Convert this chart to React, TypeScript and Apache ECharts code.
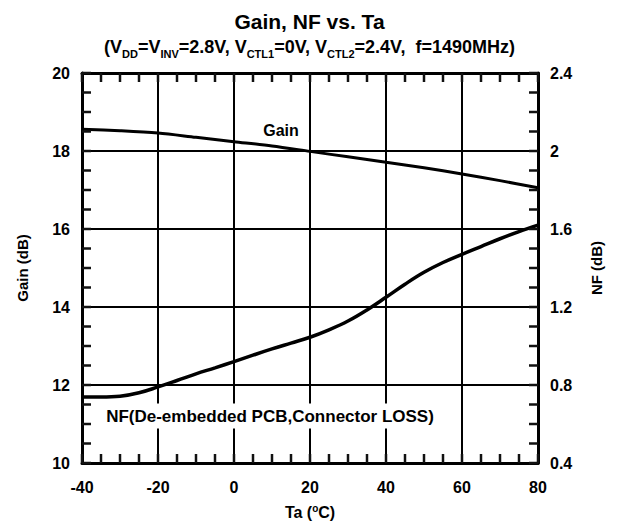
import React, { useEffect, useRef } from "react";
import * as echarts from "echarts";

const temps = [-40, -35, -30, -25, -20, -15, -10, -5, 0, 5, 10, 15, 20, 25, 30, 35, 40, 45, 50, 55, 60, 65, 70, 75, 80];
const gainTemps = [-40, -30, -20, -10, 0, 10, 20, 30, 40, 50, 60, 70, 80];
const gainValues = [18.56, 18.52, 18.46, 18.35, 18.24, 18.13, 17.99, 17.85, 17.71, 17.57, 17.41, 17.24, 17.06];
const nfValues = [0.738, 0.738, 0.742, 0.76, 0.79, 0.823, 0.857, 0.888, 0.92, 0.953, 0.985, 1.015, 1.045, 1.083, 1.128, 1.185, 1.25, 1.317, 1.378, 1.428, 1.47, 1.51, 1.55, 1.587, 1.62];

// tick positions (major + minor) along each edge
const xTickValues = [-40, -35, -30, -25, -20, -15, -10, -5, 0, 5, 10, 15, 20, 25, 30, 35, 40, 45, 50, 55, 60, 65, 70, 75, 80];
const gainTickValues = [10, 10.5, 11, 11.5, 12, 12.5, 13, 13.5, 14, 14.5, 15, 15.5, 16, 16.5, 17, 17.5, 18, 18.5, 19, 19.5, 20];
const nfTickValues = [0.4, 0.5, 0.6, 0.7, 0.8, 0.9, 1.0, 1.1, 1.2, 1.3, 1.4, 1.5, 1.6, 1.7, 1.8, 1.9, 2.0, 2.1, 2.2, 2.3, 2.4];
const xMin = -40;
const xMax = 80;
const gainMin = 10;
const gainMax = 20;

const FONT = 'Arial, "Liberation Sans", sans-serif';
const TICK_LEN = 9;

export default function App() {
  const ref = useRef<HTMLDivElement>(null);
  useEffect(() => {
    document.body.style.margin = "0";
    const chart = echarts.init(ref.current!, null, { renderer: "svg" });
    const lbl = { color: "#000", fontWeight: "bold", fontSize: 16, fontFamily: FONT };
    const mkTick = () => ({ stroke: "#111", lineWidth: 2.5, fill: null });
    chart.setOption({
      animation: false,
      backgroundColor: "#fff",
      title: [
        {
          text: "Gain, NF vs. Ta",
          left: "center",
          top: 6,
          textStyle: { fontSize: 21, fontWeight: "bold", fontFamily: FONT, color: "#000" },
        },
        {
          text: "(V{s|DD}=V{s|INV}=2.8V, V{s|CTL1}=0V, V{s|CTL2}=2.4V,  f=1490MHz)",
          left: "center",
          top: 29,
          textStyle: {
            fontSize: 18,
            fontWeight: "bold",
            fontFamily: FONT,
            color: "#000",
            rich: {
              s: { fontSize: 11, fontWeight: "bold", fontFamily: FONT, color: "#000", padding: [14, 0, 0, 0] },
            },
          },
        },
      ],
      grid: { left: 82, right: 81, top: 73, bottom: 65 },
      xAxis: [
        {
          type: "value",
          min: xMin,
          max: xMax,
          interval: 20,
          position: "bottom",
          axisLine: { show: true, onZero: false, lineStyle: { color: "#000", width: 3 } },
          axisTick: { show: false },
          splitLine: { show: true, lineStyle: { color: "#000", width: 2 } },
          axisLabel: { ...lbl, margin: 16 },
          name: "Ta ({sup|o}C)",
          nameLocation: "middle",
          nameGap: 40,
          nameTextStyle: {
            ...lbl,
            rich: { sup: { fontSize: 10, fontWeight: "bold", fontFamily: FONT, color: "#000", padding: [0, 0, 9, 0] } },
          },
        },
        {
          type: "value",
          min: xMin,
          max: xMax,
          interval: 20,
          position: "top",
          axisLine: { show: true, onZero: false, lineStyle: { color: "#000", width: 3 } },
          axisTick: { show: false },
          splitLine: { show: false },
          axisLabel: { show: false },
        },
      ],
      yAxis: [
        {
          type: "value",
          min: gainMin,
          max: gainMax,
          interval: 2,
          position: "left",
          axisLine: { show: true, onZero: false, lineStyle: { color: "#000", width: 3 } },
          axisTick: { show: false },
          splitLine: { show: true, lineStyle: { color: "#000", width: 2 } },
          axisLabel: { ...lbl, margin: 12 },
          name: "Gain (dB)",
          nameLocation: "middle",
          nameGap: 52,
          nameTextStyle: { ...lbl, fontSize: 15 },
        },
        {
          type: "value",
          min: 0.4,
          max: 2.4,
          interval: 0.4,
          position: "right",
          axisLine: { show: true, onZero: false, lineStyle: { color: "#000", width: 3 } },
          axisTick: { show: false },
          splitLine: { show: false },
          axisLabel: { ...lbl, margin: 12 },
          name: "NF (dB)",
          nameLocation: "middle",
          nameGap: 51,
          nameTextStyle: { ...lbl, fontSize: 15 },
        },
      ],
      series: [
        {
          type: "line",
          name: "Gain",
          xAxisIndex: 0,
          yAxisIndex: 0,
          data: gainTemps.map((t, i) => [t, gainValues[i]]),
          smooth: 0.3,
          showSymbol: false,
          lineStyle: { color: "#000", width: 3 },
          z: 5,
        },
        {
          type: "line",
          name: "NF",
          xAxisIndex: 0,
          yAxisIndex: 1,
          data: temps.map((t, i) => [t, nfValues[i]]),
          smooth: 0.4,
          showSymbol: false,
          lineStyle: { color: "#000", width: 3.5 },
          z: 5,
        },
        {
          type: "custom",
          name: "xTicks",
          xAxisIndex: 0,
          yAxisIndex: 0,
          silent: true,
          clip: false,
          z: 8,
          data: [
            ...xTickValues.map((t) => [t, gainMin]),
            ...xTickValues.map((t) => [t, gainMax]),
          ],
          renderItem: (params: any, api: any) => {
            const yv = api.value(1);
            const p = api.coord([api.value(0), yv]);
            const dir = yv === gainMin ? -1 : 1;
            return {
              type: "line",
              z2: 100,
              shape: { x1: p[0], y1: p[1], x2: p[0], y2: p[1] + dir * TICK_LEN },
              style: mkTick(),
            };
          },
        },
        {
          type: "custom",
          name: "gainTicks",
          xAxisIndex: 0,
          yAxisIndex: 0,
          silent: true,
          clip: false,
          z: 8,
          data: gainTickValues.map((v) => [xMin, v]),
          renderItem: (params: any, api: any) => {
            const p = api.coord([api.value(0), api.value(1)]);
            return {
              type: "line",
              z2: 100,
              shape: { x1: p[0], y1: p[1], x2: p[0] + TICK_LEN, y2: p[1] },
              style: mkTick(),
            };
          },
        },
        {
          type: "custom",
          name: "nfTicks",
          xAxisIndex: 0,
          yAxisIndex: 1,
          silent: true,
          clip: false,
          z: 8,
          data: nfTickValues.map((v) => [xMax, v]),
          renderItem: (params: any, api: any) => {
            const p = api.coord([api.value(0), api.value(1)]);
            return {
              type: "line",
              z2: 100,
              shape: { x1: p[0], y1: p[1], x2: p[0] - TICK_LEN, y2: p[1] },
              style: mkTick(),
            };
          },
        },
      ],
      graphic: [
        {
          type: "text",
          x: 281,
          y: 130,
          z: 10,
          style: {
            text: "Gain",
            fill: "#000",
            font: `bold 16px ${FONT}`,
            align: "center",
            verticalAlign: "middle",
          },
        },
        {
          type: "text",
          x: 270,
          y: 416,
          z: 10,
          style: {
            text: "NF(De-embedded PCB,Connector LOSS)",
            fill: "#000",
            font: `bold 17px ${FONT}`,
            align: "center",
            verticalAlign: "middle",
            backgroundColor: "#fff",
            padding: [4, 2, 4, 2],
          },
        },
      ],
    });
    return () => chart.dispose();
  }, []);
  return <div ref={ref} style={{ position: "fixed", left: 0, top: 0, width: 619, height: 528 }} />;
}
